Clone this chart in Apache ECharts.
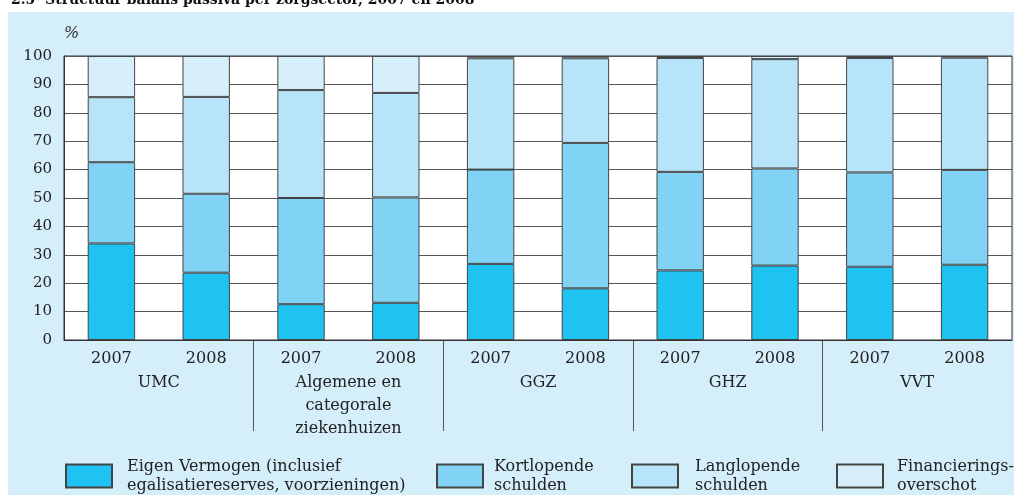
<!DOCTYPE html>
<html>
<head>
<meta charset="utf-8">
<title>Structuur balans passiva per zorgsector</title>
<script src="https://cdn.jsdelivr.net/npm/echarts@6/dist/echarts.min.js"></script>
<style>
  html, body { margin: 0; padding: 0; background: #fff; }
  #chart { width: 1014px; height: 495px; }
</style>
</head>
<body>
<div id="chart"></div>
<script>
// zorgsectoren en jaren
const groups = ['UMC', 'Algemene en\ncategorale\nziekenhuizen', 'GGZ', 'GHZ', 'VVT']
const years = ['2007', '2008']
const yTicks = [0, 10, 20, 30, 40, 50, 60, 70, 80, 90, 100]

// aandeel per segment (%), volgorde: UMC 07, UMC 08, Alg 07, Alg 08, GGZ 07, GGZ 08, GHZ 07, GHZ 08, VVT 07, VVT 08
const eigenVermogen = [34.0, 23.7, 12.6, 13.1, 26.8, 18.2, 24.5, 26.2, 25.8, 26.5]
const kortlopend = [28.6, 27.8, 37.4, 37.1, 33.2, 51.2, 34.7, 34.2, 33.2, 33.4]
const langlopend = [22.9, 34.1, 38.0, 36.8, 39.2, 29.8, 40.1, 38.5, 40.3, 39.5]
const financiering = [14.5, 14.4, 12.0, 13.0, 0.8, 0.8, 0.7, 1.1, 0.7, 0.6]

const seriesNames = [
  'Eigen Vermogen (inclusief\negalisatiereserves, voorzieningen)',
  'Kortlopende\nschulden',
  'Langlopende\nschulden',
  'Financierings-\noverschot'
]
const seriesData = [eigenVermogen, kortlopend, langlopend, financiering]
const colors = ['#1fc3f1', '#80d3f5', '#b7e4f8', '#d6effa']

const FONT = '"DejaVu Serif", "Liberation Serif", serif'

const categories = []
groups.forEach(() => years.forEach(y => categories.push(y)))

const chart = echarts.init(document.getElementById('chart'), null, { renderer: 'canvas' })

// legenda: elk item apart zodat de afstanden kloppen
const legendPos = [
  { left: 60, pad: 10 },
  { left: 431, pad: 6 },
  { left: 626, pad: 12 },
  { left: 831, pad: 9 }
]
const legends = seriesNames.map((name, i) => ({
  data: [name],
  left: legendPos[i].left,
  top: 443,
  itemWidth: 46,
  itemHeight: 23,
  icon: 'rect',
  selectedMode: false,
  textStyle: {
    fontFamily: FONT,
    fontSize: 16,
    lineHeight: 19,
    color: '#222',
    padding: [0, 0, 18, legendPos[i].pad]
  }
}))

const option = {
  animation: false,
  title: {
    text: '2.5  Structuur balans passiva per zorgsector, 2007 en 2008',
    left: 6,
    top: -12,
    textStyle: { fontFamily: FONT, fontSize: 14, fontWeight: 'bold', color: '#111' }
  },
  graphic: [
    {
      type: 'rect',
      left: 8,
      top: 12,
      z: -100,
      shape: { width: 1006, height: 483 },
      style: { fill: '#d4eefa' },
      silent: true
    }
  ],
  legend: legends,
  grid: [
    {
      left: 64,
      right: 2,
      top: 56,
      bottom: 155,
      show: true,
      backgroundColor: '#fff',
      borderColor: '#333',
      borderWidth: 1
    },
    {
      left: 64,
      right: 2,
      top: 340,
      height: 91,
      show: false
    }
  ],
  xAxis: [
    {
      type: 'category',
      gridIndex: 0,
      data: categories,
      axisLine: { lineStyle: { color: '#333', width: 1 } },
      axisTick: { show: false },
      axisLabel: {
        interval: 0,
        margin: 9,
        fontFamily: FONT,
        fontSize: 16,
        lineHeight: 19,
        color: '#222'
      }
    },
    {
      type: 'category',
      gridIndex: 1,
      position: 'top',
      data: groups,
      axisLine: { show: false },
      axisTick: { show: false },
      splitLine: {
        show: true,
        interval: 0,
        showMinLine: false,
        showMaxLine: false,
        lineStyle: { color: '#555', width: 1 }
      },
      axisLabel: {
        inside: true,
        interval: 0,
        margin: 31,
        fontFamily: FONT,
        fontSize: 16,
        lineHeight: 23,
        color: '#222'
      }
    }
  ],
  yAxis: [
    {
      type: 'value',
      gridIndex: 0,
      min: yTicks[0],
      max: yTicks[yTicks.length - 1],
      interval: 10,
      name: '%',
      nameLocation: 'end',
      nameGap: 22,
      nameTextStyle: {
        fontFamily: FONT,
        fontStyle: 'italic',
        fontSize: 16,
        color: '#333',
        align: 'left',
        verticalAlign: 'middle'
      },
      axisLine: { show: true, lineStyle: { color: '#333' } },
      axisTick: { show: false },
      axisLabel: {
        margin: 12,
        fontFamily: FONT,
        fontSize: 15,
        color: '#222'
      },
      splitLine: { lineStyle: { color: '#555', width: 1 } }
    },
    { type: 'value', gridIndex: 1, show: false }
  ],
  series: seriesNames.map((name, i) => ({
    name: name,
    type: 'bar',
    stack: 'passiva',
    xAxisIndex: 0,
    yAxisIndex: 0,
    barWidth: '50%',
    data: seriesData[i],
    itemStyle: {
      color: colors[i],
      borderColor: '#444',
      borderWidth: 1
    },
    emphasis: { disabled: true }
  }))
}

option && chart.setOption(option)
</script>
</body>
</html>
